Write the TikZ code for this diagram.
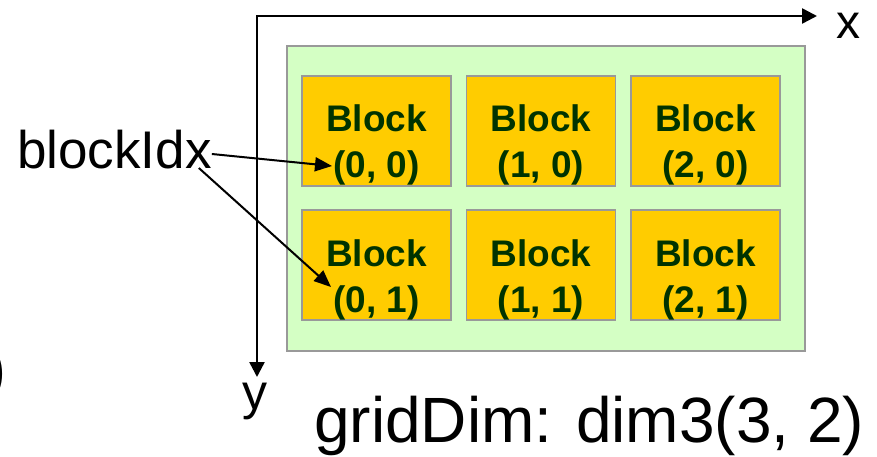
\documentclass[tikz,border=0pt]{standalone}
\usepackage{fontspec}
\setmainfont{Liberation Sans}
\usetikzlibrary{arrows.meta}
\definecolor{gridgreen}{RGB}{212,255,196}
\definecolor{blockyellow}{RGB}{255,204,0}
\definecolor{txtgreen}{RGB}{0,51,0}
\definecolor{edgegray}{RGB}{153,153,153}
\tikzset{
  gridbox/.style={draw=edgegray, fill=gridgreen, line width=1.5pt, minimum width=518pt, minimum height=305pt, inner sep=0pt},
  blockbox/.style={draw=edgegray, fill=blockyellow, line width=1.5pt, minimum width=149pt, minimum height=110pt, inner sep=0pt},
  blocktext/.style={text=txtgreen, font=\fontsize{37}{40}\selectfont\bfseries, inner sep=0pt, anchor=base},
  bigtext/.style={font=\fontsize{#1}{#1}\selectfont, inner sep=0pt, anchor=base west},
  axisline/.style={line width=2.5pt, {Triangle[length=15pt,width=15pt]}-{Triangle[length=15pt,width=15pt]}},
  pointer/.style={line width=2pt, -{Triangle[length=17pt,width=14pt]}}
}
\begin{document}
\begin{tikzpicture}[x=1pt,y=-1pt]
\useasboundingbox (0,0) rectangle (877,457);
% grid background
\node[gridbox] (grid) at (546,198.5) {};
% axes
\coordinate (o) at (257,16);
\coordinate (xend) at (817,16);
\coordinate (yend) at (257,377);
\draw[axisline] (xend) -- (o) -- (yend);
\node[bigtext=48] (xlab) at (836,39) {x};
\node[bigtext=50] (ylab) at (242,409) {y};
% blocks
\foreach \c/\cx in {0/376.5,1/541,2/705.5}{
  \foreach \r/\ry in {0/131,1/265}{
    \node[blockbox] (b\c\r) at (\cx,\ry) {};
    \node[blocktext] (bl\c\r) at (\cx,\ry+1) {Block};
    \node[blocktext] (bi\c\r) at (\cx,\ry+47) {(\c, \r)};
  }
}
% blockIdx label and pointers
\node[bigtext=53] (bidx) at (17,168) {blockIdx};
\coordinate (t1) at (332,166);
\coordinate (t2) at (331,287);
\draw[pointer] ([yshift=14pt]bidx.base east) -- (t1);
\draw[pointer] ([xshift=-13pt]bidx.base east) -- (t2);
% caption
\node[bigtext=64] (gdim) at (314,442) {gridDim: dim3(3, 2)};
% cut-off parenthesis at left edge
\node[font=\fontsize{63}{63}\selectfont, inner sep=0pt, anchor=base east] (cut) at (6.5,390) {)};
\end{tikzpicture}
\end{document}
